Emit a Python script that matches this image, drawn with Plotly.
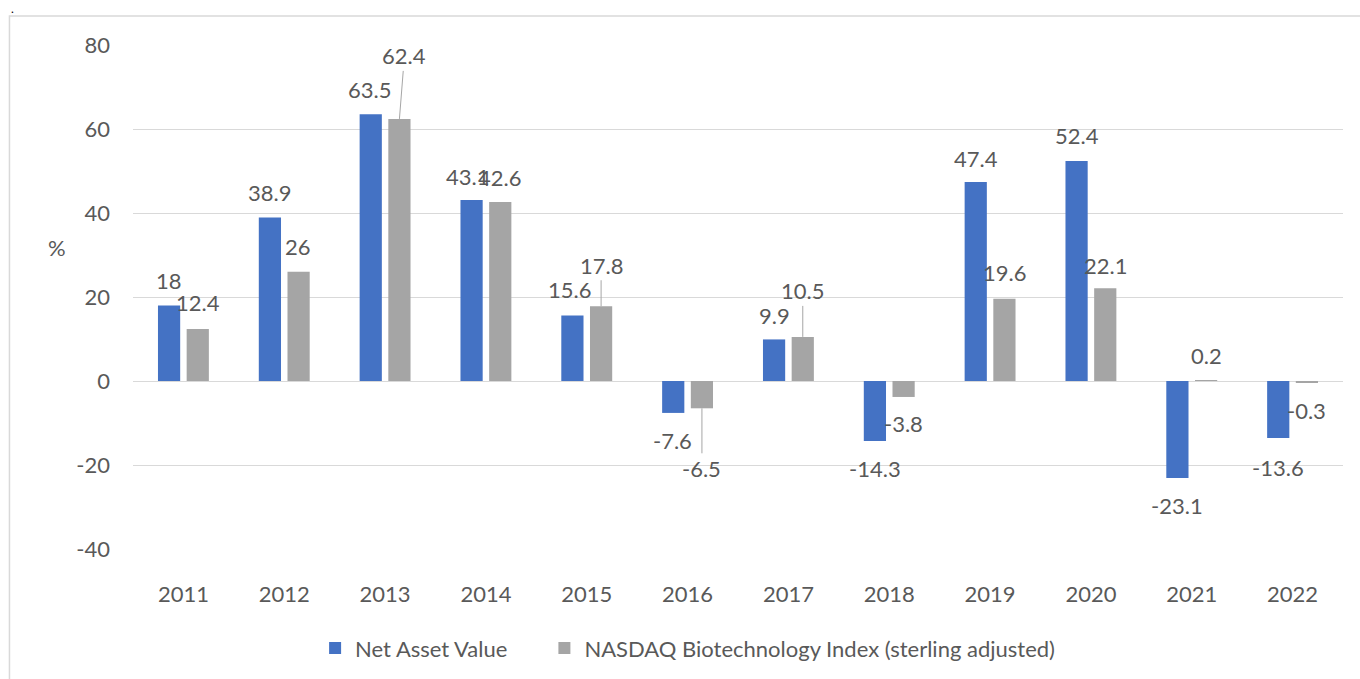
import plotly.graph_objects as go

years = ["2011", "2012", "2013", "2014", "2015", "2016", "2017", "2018", "2019", "2020", "2021", "2022"]
nav = [18, 38.9, 63.5, 43.1, 15.6, -7.6, 9.9, -14.3, 47.4, 52.4, -23.1, -13.6]
nbi = [12.4, 26, 62.4, 42.6, 17.8, -6.5, 10.5, -3.8, 19.6, 22.1, 0.2, -0.3]
series_names = ["Net Asset Value", "NASDAQ Biotechnology Index (sterling adjusted)"]
y_ticks = [-40, -20, 0, 20, 40, 60, 80]
y_tick_text = ["-40", "-20", "0", "20", "40", "60", "80"]

# label placement styles (pixel offsets from bar end; dy positive = upward)
nav_dx = [0, 0, -1, -4.5, -3, -1, 0, 0, 0.5, 0, 0, 0]
nav_dy = [24.5, 25, 25, 23, 26, -27.5, 24, -27.5, 23.5, 25, -27.5, -29]
nbi_dx = [0, -1, 5, -1, 0, 0, 0, 0, 0.5, 0, 0, 0]
nbi_dy = [26, 25.6, 63, 25, 41, -60, 46, -26.5, 26, 23, 25, -28]
nbi_leader = [False, False, True, False, True, True, True, False, False, False, False, False]

BLUE = "#4472C4"
GRAY = "#A5A5A5"
TXT = "#595959"
FONT = "Lato"
FS = 22
HALF = 14.35  # px offset of each bar from category centre

fig = go.Figure()
fig.add_trace(go.Bar(x=years, y=nav, name=series_names[0], legend="legend",
                     marker=dict(color=BLUE, line=dict(width=0))))
fig.add_trace(go.Bar(x=years, y=nbi, name=series_names[1], legend="legend2",
                     marker=dict(color=GRAY, line=dict(width=0))))

ann = []
for i, yr in enumerate(years):
    ann.append(dict(x=i, y=nav[i], xref="x", yref="y", text=f"{nav[i]:g}", showarrow=False,
                    xshift=-HALF + nav_dx[i], yshift=nav_dy[i],
                    font=dict(family=FONT, size=FS, color=TXT), xanchor="center", yanchor="middle"))
    if nbi_leader[i]:
        ann.append(dict(x=i, y=nbi[i], xref="x", yref="y", text=f"{nbi[i]:g}", showarrow=True,
                        arrowhead=0, arrowwidth=1, arrowcolor="#A6A6A6", standoff=0,
                        ax=nbi_dx[i], ay=-nbi_dy[i], xshift=HALF,
                        font=dict(family=FONT, size=FS, color=TXT)))
    else:
        ann.append(dict(x=i, y=nbi[i], xref="x", yref="y", text=f"{nbi[i]:g}", showarrow=False,
                        xshift=HALF + nbi_dx[i], yshift=nbi_dy[i],
                        font=dict(family=FONT, size=FS, color=TXT), xanchor="center", yanchor="middle"))

ann.append(dict(x=-0.0628, y=0.599, xref="paper", yref="paper", text="%", showarrow=False,
                font=dict(family=FONT, size=FS, color=TXT), xanchor="center", yanchor="middle"))
ann.append(dict(x=-0.0992, y=1.072, xref="paper", yref="paper", text=".", showarrow=False,
                font=dict(family=FONT, size=12, color="#000000"), xanchor="center", yanchor="middle"))

legend_common = dict(orientation="h", xanchor="left", y=-0.197, yanchor="middle",
                     font=dict(family=FONT, size=FS, color=TXT), bgcolor="rgba(0,0,0,0)")

fig.update_layout(
    width=1360, height=679,
    margin=dict(l=133, r=17, t=45, b=130, autoexpand=False),
    paper_bgcolor="white", plot_bgcolor="white",
    barmode="group", bargap=0.431, bargroupgap=0.226,
    font=dict(family=FONT, size=FS, color=TXT),
    annotations=ann,
    showlegend=True,
    legend=dict(x=0.1505, **legend_common),
    legend2=dict(x=0.340, **legend_common),
    shapes=[dict(type="rect", xref="paper", yref="paper", x0=-0.1021, x1=1.2, y0=-0.5, y1=1.0576,
                 line=dict(color="#D9D9D9", width=1.5), fillcolor="rgba(0,0,0,0)", layer="below")],
    xaxis=dict(type="category", range=[-0.5, len(years) - 0.5], showline=False, ticks="",
               showgrid=False, ticklabelstandoff=30,
               automargin=False, tickfont=dict(family=FONT, size=FS, color=TXT)),
    yaxis=dict(range=[-40, 80], tickvals=y_ticks, ticktext=y_tick_text, showgrid=True,
               gridcolor="#D9D9D9", gridwidth=1.3, automargin=False,
               zeroline=True, zerolinecolor="#D9D9D9", zerolinewidth=1.3, showline=False, ticks="",
               ticklabelstandoff=22, tickfont=dict(family=FONT, size=FS, color=TXT)),
)

fig.write_html("out.html", config={"displayModeBar": False},
               post_script="document.body.style.margin='0';document.body.style.overflow='hidden';")
